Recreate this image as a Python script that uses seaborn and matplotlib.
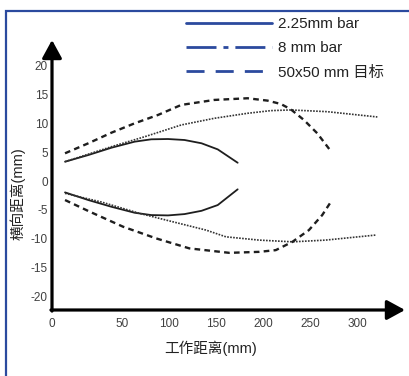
import pandas as pd
import seaborn as sns
import matplotlib.pyplot as plt
from matplotlib.lines import Line2D
from matplotlib.patches import Rectangle

# 2.25mm bar (solid)
bar225_up_x = [-10.2, 14.5, 39.0, 63.6, 81.2, 98.9, 116.4, 134.4, 151.6, 172.7]
bar225_up_y = [3.36, 4.52, 5.79, 6.84, 7.25, 7.30, 7.13, 6.56, 5.50, 3.18]
bar225_lo_x = [-10.2, 14.5, 39.0, 63.6, 81.2, 98.9, 116.4, 134.4, 151.6, 172.7]
bar225_lo_y = [-1.97, -3.30, -4.47, -5.51, -5.91, -5.97, -5.74, -5.17, -4.17, -1.44]

# 8 mm bar (fine dotted)
bar8_up_x = [-10.2, 39.0, 74.2, 112.9, 148.0, 183.2, 207.8, 228.9, 267.6, 320.7]
bar8_up_y = [3.36, 5.97, 7.70, 9.74, 10.90, 11.77, 12.23, 12.35, 12.05, 11.13]
bar8_lo_x = [-10.2, 28.5, 68.9, 104.1, 139.2, 160.3, 195.5, 230.7, 265.8, 318.6]
bar8_lo_y = [-2.14, -3.65, -5.62, -7.08, -8.52, -9.69, -10.26, -10.56, -10.26, -9.39]

# 50x50 mm target (dashed)
tgt_up_x = [-10.2, 14.5, 39.0, 63.6, 88.3, 112.9, 148.0, 183.2, 204.3, 218.4, 228.9, 242.9, 257.0, 271.1]
tgt_up_y = [4.82, 6.56, 8.40, 10.03, 11.48, 13.22, 14.09, 14.38, 13.97, 13.39, 12.47, 10.61, 8.30, 5.27]
tgt_lo_x = [-10.2, 16.1, 51.4, 86.5, 121.6, 163.8, 195.5, 213.1, 230.7, 248.2, 262.3, 272.2]
tgt_lo_y = [-3.30, -5.33, -7.94, -9.97, -11.70, -12.47, -12.30, -12.0, -10.56, -8.52, -5.91, -3.43]

legend_labels = ["2.25mm bar", "8 mm bar", "50x50 mm 目标"]
x_ticks = [-24, 50, 100, 150, 200, 250, 300]
x_tick_labels = ["0", "50", "100", "150", "200", "250", "300"]
y_ticks = [-20, -15, -10, -5, 0, 5, 10, 15, 20]

sns.set_style("white")
plt.rcParams["font.family"] = ["Liberation Sans", "Noto Sans CJK SC"]
plt.rcParams["axes.unicode_minus"] = False

fig = plt.figure(figsize=(4.09, 3.76), dpi=100)
ax = fig.add_axes([52 / 409, 66 / 376, 353 / 409, 270 / 376])

curves = [
    (bar225_up_x, bar225_up_y, dict(color="#1e1e1e", lw=1.3, ls="-")),
    (bar225_lo_x, bar225_lo_y, dict(color="#1e1e1e", lw=1.3, ls="-")),
    (bar8_up_x, bar8_up_y, dict(color="#333333", lw=1.2, ls=(0, (1, 0.8)))),
    (bar8_lo_x, bar8_lo_y, dict(color="#333333", lw=1.2, ls=(0, (1, 0.8)))),
    (tgt_up_x, tgt_up_y, dict(color="#1e1e1e", lw=1.7, ls=(0, (2.4, 1.8)))),
    (tgt_lo_x, tgt_lo_y, dict(color="#1e1e1e", lw=1.7, ls=(0, (2.4, 1.8)))),
]
for xs, ys, kw in curves:
    df = pd.DataFrame({"x": xs, "y": ys})
    sns.lineplot(data=df, x="x", y="y", ax=ax, sort=False, estimator=None,
                 color=kw["color"], linewidth=kw["lw"], linestyle=kw["ls"])

ax.set_xlim(-22.2, 350)
ax.set_ylim(-22.4, 24.5)
for s in ax.spines.values():
    s.set_visible(False)

arrow = dict(arrowstyle="-|>,head_length=0.55,head_width=0.3", lw=2.3,
             color="black", mutation_scale=20, shrinkA=0, shrinkB=0)
ax.annotate("", xy=(0, 1), xytext=(0, -0.004), xycoords="axes fraction",
            arrowprops=arrow)
ax.annotate("", xy=(1, 0), xytext=(-0.003, 0), xycoords="axes fraction",
            arrowprops=arrow)

ax.set_xticks(x_ticks)
ax.set_xticklabels(x_tick_labels)
ax.set_yticks(y_ticks)
ax.tick_params(length=0, labelsize=8.5, labelcolor="#404040")
ax.tick_params(axis="x", pad=6)
ax.tick_params(axis="y", pad=3)

ax.set_xlabel("工作距离(mm)", fontsize=10.5, color="#222222")
ax.xaxis.set_label_coords(0.448, -0.112)
ax.set_ylabel("横向距离(mm)", fontsize=10.5, color="#222222")
ax.yaxis.set_label_coords(-0.076, 0.43)

blue = "#2b4a9e"
handles = [
    Line2D([], [], color=blue, lw=2, ls="-"),
    Line2D([], [], color=blue, lw=2, ls=(0, (10.8, 2.5, 1.8, 2.5))),
    Line2D([], [], color=blue, lw=2, ls=(0, (6.5, 4))),
]
fig.legend(handles, legend_labels, loc="upper left",
           bbox_to_anchor=(186 / 409, 1 - 17 / 376), frameon=False,
           fontsize=11, handlelength=5.6, handletextpad=0.4,
           labelspacing=0.68, borderpad=0, borderaxespad=0,
           labelcolor="#222222")

fig.patches.append(Rectangle((6 / 409, -0.1), 1.2, 1.1 - 11 / 376,
                             transform=fig.transFigure, fill=False,
                             edgecolor=blue, lw=1.6))

fig.savefig("out.png", dpi=100)
